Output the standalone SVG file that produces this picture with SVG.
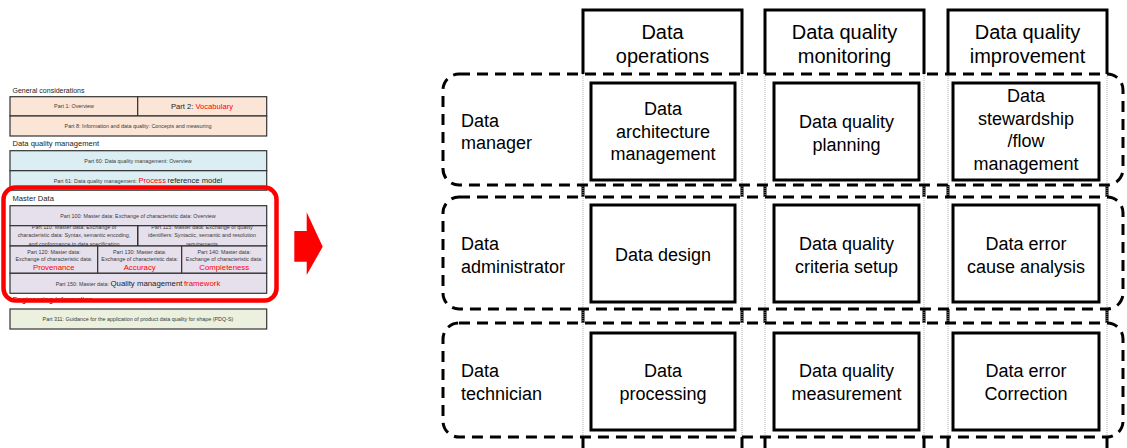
<svg xmlns="http://www.w3.org/2000/svg" width="1127" height="448" viewBox="0 0 1127 448">
  <style>
    text { font-family: "Liberation Sans", Arial, sans-serif; }
    .sm { font-size: 5.4px; fill: #3a3a3a; text-anchor: middle; }
    .hd { font-size: 7.4px; fill: #222; }
    .big { font-size: 7.6px; }
    .red { fill: #ff0000; }
    .cell { stroke: #333; stroke-width: 1.2; }
    .peach { fill: #fbe5d6; }
    .blue { fill: #daeef3; }
    .lav { fill: #e5e0ec; }
    .green { fill: #ebf1de; }
    .colEdge { fill: none; stroke: #000; stroke-width: 3; }
    .colDot { fill: none; stroke: #b0b0b0; stroke-width: 1; stroke-dasharray: 1 1; }
    .row { fill: none; stroke: #000; stroke-width: 3; stroke-dasharray: 11 7; }
    .box { fill: #fff; stroke: #000; stroke-width: 3; }
    .colTxt { font-size: 20px; fill: #000; text-anchor: middle; }
    .boxTxt { font-size: 18px; fill: #000; text-anchor: middle; }
    .rowTxt { font-size: 18px; fill: #000; }
  </style>

  <!-- ISO 8000 parts overview -->
  <g id="iso-parts">
    <text class="hd" x="12.5" y="92.5" style="font-size:7px">General considerations</text>
    <rect class="cell peach" x="10" y="96.7" width="127.7" height="19.3"/>
    <rect class="cell peach" x="137.7" y="96.7" width="129" height="19.3"/>
    <rect class="cell peach" x="10" y="116" width="256.7" height="20"/>
    <text class="sm" x="74" y="108.3">Part 1: Overview</text>
    <text class="sm big" x="202" y="109" style="font-size:7.6px;fill:#222">Part 2: <tspan class="red">Vocabulary</tspan></text>
    <text class="sm" x="138" y="128">Part 8: Information and data quality: Concepts and measuring</text>

    <text class="hd" x="12.5" y="146" style="font-size:7.6px">Data quality management</text>
    <rect class="cell blue" x="10" y="150.7" width="256.7" height="20"/>
    <rect class="cell blue" x="10" y="170.7" width="256.7" height="19.5"/>
    <text class="sm" x="138" y="162.5">Part 60: Data quality management: Overview</text>
    <text class="sm" x="138" y="182.5">Part 61: Data quality management: <tspan class="red" style="font-size:7.6px">Process</tspan> <tspan style="font-size:7.6px;fill:#222">reference model</tspan></text>

    <text class="hd" x="12.5" y="200.5" style="font-size:7.6px">Master Data</text>
    <rect class="cell lav" x="10" y="205.7" width="256.7" height="20"/>
    <text class="sm" x="138" y="217.5">Part 100: Master data: Exchange of characteristic data: Overview</text>

    <g id="part-110-115">
      <rect class="lav" x="10" y="225.7" width="256.7" height="20.3"/>
      <text class="sm" x="74" y="228.6">Part 110: Master data: Exchange of</text>
      <text class="sm" x="74" y="237.2">characteristic data: Syntax, semantic encoding,</text>
      <text class="sm" x="74" y="245.6">and conformance to data specification</text>
      <text class="sm" x="202" y="228.6">Part 115: Master data: Exchange of quality</text>
      <text class="sm" x="202" y="237.2">identifiers: Syntactic, semantic and resolution</text>
      <text class="sm" x="202" y="245.6">requirements</text>
      <rect class="cell" fill="none" x="10" y="225.7" width="127.7" height="20.3"/>
      <rect class="cell" fill="none" x="137.7" y="225.7" width="129" height="20.3"/>
    </g>

    <g id="part-120-140">
      <rect class="cell lav" x="10" y="246" width="87.7" height="27.3"/>
      <rect class="cell lav" x="97.7" y="246" width="84" height="27.3"/>
      <rect class="cell lav" x="181.7" y="246" width="85" height="27.3"/>
      <text class="sm" x="53.8" y="253.5">Part 120: Master data:</text>
      <text class="sm" x="53.8" y="261">Exchange of characteristic data:</text>
      <text class="sm red" x="53.8" y="270" style="font-size:7.8px">Provenance</text>
      <text class="sm" x="139.7" y="253.5">Part 130: Master data:</text>
      <text class="sm" x="139.7" y="261">Exchange of characteristic data:</text>
      <text class="sm red" x="139.7" y="270" style="font-size:7.8px">Accuracy</text>
      <text class="sm" x="224.2" y="253.5">Part 140: Master data:</text>
      <text class="sm" x="224.2" y="261">Exchange of characteristic data:</text>
      <text class="sm red" x="224.2" y="270" style="font-size:7.8px">Completeness</text>
    </g>

    <rect class="cell lav" x="10" y="273.3" width="256.7" height="20"/>
    <text class="sm" x="138" y="286.2">Part 150: Master data: <tspan style="font-size:7.8px;fill:#222">Quality management</tspan> <tspan class="red" style="font-size:7.8px">framework</tspan></text>

    <text class="hd" x="12.5" y="302" style="font-size:7.6px">Engineering information</text>
    <rect class="cell green" x="10" y="309" width="256.7" height="20"/>
    <text class="sm" x="138" y="321">Part 311: Guidance for the application of product data quality for shape (PDQ-S)</text>

    <!-- highlight around the master data parts -->
    <rect x="3.5" y="187.5" width="273" height="113" rx="12" ry="12" fill="none" stroke="#ff0000" stroke-width="4.5"/>
  </g>

  <!-- arrow pointing to the role matrix -->
  <polygon id="arrow" points="294.3,231 306.7,231 306.7,212.3 322.7,246.7 306.7,275 306.7,261.7 294.3,261.7" fill="#ff0000"/>

  <!-- function columns: solid head, dotted inside rows, solid between rows -->
  <g id="connectors">
    <path class="colEdge" d="M583 74 V10 H742 V74 M583 185 V197 M742 185 V197 M583 309 V323 M742 309 V323 M583 437 V450 M742 437 V450"/>
    <path class="colEdge" d="M765 74 V10 H924 V74 M765 185 V197 M924 185 V197 M765 309 V323 M924 309 V323 M765 437 V450 M924 437 V450"/>
    <path class="colEdge" d="M948 74 V10 H1107 V74 M948 185 V197 M1107 185 V197 M948 309 V323 M1107 309 V323 M948 437 V450 M1107 437 V450"/>
    <path class="colDot" d="M583 74 V437 M742 74 V437 M765 74 V437 M924 74 V437 M948 74 V437 M1107 74 V437"/>
  </g>

  <g id="col-operations">
    <text class="colTxt" x="662.5" y="39.3">Data</text>
    <text class="colTxt" x="662.5" y="63.3">operations</text>
  </g>
  <g id="col-monitoring">
    <text class="colTxt" x="844.5" y="39.3">Data quality</text>
    <text class="colTxt" x="844.5" y="63.3">monitoring</text>
  </g>
  <g id="col-improvement">
    <text class="colTxt" x="1027.5" y="39.3">Data quality</text>
    <text class="colTxt" x="1027.5" y="63.3">improvement</text>
  </g>

  <!-- role rows -->
  <g id="row-manager">
    <rect class="row" x="443" y="74" width="680" height="111" rx="16" ry="16"/>
    <text class="rowTxt" x="461" y="126.5">Data</text>
    <text class="rowTxt" x="461" y="149">manager</text>
  </g>
  <g id="row-administrator">
    <rect class="row" x="443" y="197" width="680" height="112" rx="16" ry="16"/>
    <text class="rowTxt" x="461" y="250">Data</text>
    <text class="rowTxt" x="461" y="272.5">administrator</text>
  </g>
  <g id="row-technician">
    <rect class="row" x="443" y="323" width="680" height="114" rx="16" ry="16"/>
    <text class="rowTxt" x="461" y="377">Data</text>
    <text class="rowTxt" x="461" y="399.5">technician</text>
  </g>

  <!-- activities -->
  <g id="architecture-management">
    <rect class="box" x="591" y="83" width="144" height="97"/>
    <text class="boxTxt" x="663" y="115">Data</text>
    <text class="boxTxt" x="663" y="137.5">architecture</text>
    <text class="boxTxt" x="663" y="160">management</text>
  </g>
  <g id="quality-planning">
    <rect class="box" x="774" y="83" width="145" height="97"/>
    <text class="boxTxt" x="846.5" y="128">Data quality</text>
    <text class="boxTxt" x="846.5" y="150.5">planning</text>
  </g>
  <g id="stewardship">
    <rect class="box" x="953" y="83" width="146" height="97"/>
    <text class="boxTxt" x="1026" y="102">Data</text>
    <text class="boxTxt" x="1026" y="124.5">stewardship</text>
    <text class="boxTxt" x="1026" y="147">/flow</text>
    <text class="boxTxt" x="1026" y="169.5">management</text>
  </g>

  <g id="data-design">
    <rect class="box" x="591" y="205" width="144" height="97"/>
    <text class="boxTxt" x="663" y="261">Data design</text>
  </g>
  <g id="criteria-setup">
    <rect class="box" x="774" y="205" width="145" height="97"/>
    <text class="boxTxt" x="846.5" y="250">Data quality</text>
    <text class="boxTxt" x="846.5" y="272.5">criteria setup</text>
  </g>
  <g id="cause-analysis">
    <rect class="box" x="953" y="205" width="146" height="97"/>
    <text class="boxTxt" x="1026" y="250">Data error</text>
    <text class="boxTxt" x="1026" y="272.5">cause analysis</text>
  </g>

  <g id="data-processing">
    <rect class="box" x="591" y="333" width="144" height="97"/>
    <text class="boxTxt" x="663" y="377">Data</text>
    <text class="boxTxt" x="663" y="399.5">processing</text>
  </g>
  <g id="quality-measurement">
    <rect class="box" x="774" y="333" width="145" height="97"/>
    <text class="boxTxt" x="846.5" y="377">Data quality</text>
    <text class="boxTxt" x="846.5" y="399.5">measurement</text>
  </g>
  <g id="error-correction">
    <rect class="box" x="953" y="333" width="146" height="97"/>
    <text class="boxTxt" x="1026" y="377">Data error</text>
    <text class="boxTxt" x="1026" y="399.5">Correction</text>
  </g>
</svg>
